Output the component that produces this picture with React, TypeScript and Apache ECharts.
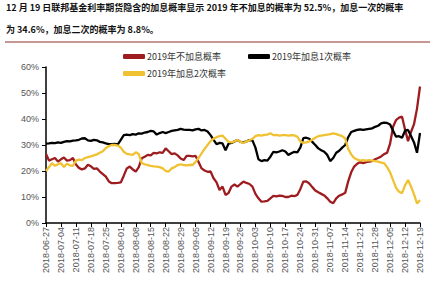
import React, { useEffect, useRef } from "react";
import * as echarts from "echarts";

const titleLine1 = "12 月 19 日联邦基金利率期货隐含的加息概率显示 2019 年不加息的概率为 52.5%，加息一次的概率";
const titleLine2 = "为 34.6%，加息二次的概率为 8.8%。";

const seriesNames = ["2019年不加息概率", "2019年加息1次概率", "2019年加息2次概率"];

const startDate = "2018-06-27";
const businessDayCount = 126;

const noHikeProb = [
  26.5, 24.0, 24.5, 25.0, 23.6, 24.5, 25.2, 24.0, 24.2, 25.0,
  22.5, 21.2, 20.6, 21.0, 22.4, 21.8, 20.8, 21.0, 19.8, 18.8,
  17.8, 16.0, 15.3, 15.3, 15.4, 15.6, 18.2, 21.0, 21.7, 20.6,
  19.8, 21.5, 24.9, 25.5, 26.2, 26.0, 27.0, 26.8, 27.2, 27.0,
  28.7, 27.6, 26.5, 26.8, 26.0, 24.8, 24.2, 25.8, 25.8, 25.6,
  25.8, 23.5, 21.0, 20.2, 19.7, 19.8, 17.2, 15.6, 12.7, 14.0,
  10.8, 11.5, 14.0, 14.8, 14.0, 15.0, 15.9, 15.4, 15.0, 14.0,
  11.2, 9.5, 8.2, 8.3, 8.5, 9.5, 10.4, 10.2, 10.5, 10.4,
  10.0, 10.0, 10.5, 10.3, 10.8, 13.0, 15.9, 16.0, 15.2, 13.8,
  12.5, 11.8, 11.2, 10.6, 9.5, 8.2, 7.6, 9.5, 10.5, 11.0,
  11.6, 16.0, 19.5, 21.7, 22.8, 23.5, 23.0, 23.4, 23.6, 23.8,
  24.5, 25.0, 25.6, 26.5, 27.0, 30.5, 37.0, 39.6, 40.5, 40.9,
  36.0, 31.5, 35.0, 38.0, 44.0, 52.5,
];

const oneHikeProb = [
  30.5, 30.6, 30.8, 30.7, 31.0, 30.8, 31.2, 31.5, 31.4, 31.7,
  31.8, 32.0, 32.5, 32.6, 31.8, 31.6, 32.0, 31.8, 31.2, 31.0,
  30.6, 30.3, 30.3, 30.4, 30.2, 32.0, 33.8, 34.0, 33.8, 34.2,
  34.0, 34.5, 34.4, 34.8, 35.0, 35.4, 35.2, 34.0, 34.6, 35.0,
  34.6, 35.0, 35.4, 35.6, 35.8, 36.2, 35.9, 35.8, 35.8, 35.6,
  36.0, 36.2, 35.6, 35.8, 35.2, 33.8, 32.0, 30.3, 30.8, 30.6,
  28.0, 30.5, 30.8, 31.4, 31.9, 31.2, 31.0, 31.4, 31.9, 31.8,
  29.0, 24.5, 23.8, 24.2, 24.0, 25.5, 27.4, 27.2, 27.5, 28.0,
  27.5, 26.2, 26.8, 27.4, 27.2, 29.0, 32.6, 32.8, 32.4, 31.2,
  30.0, 28.7, 28.0, 27.4, 26.2, 23.8, 25.0, 27.0, 27.8, 29.0,
  30.0, 33.0, 35.0, 35.4, 35.8, 36.0, 35.8, 36.0, 36.2, 36.4,
  37.0, 37.4, 38.3, 38.6, 38.5, 37.9, 35.5, 33.2, 33.4, 32.8,
  35.5, 35.8, 33.5, 31.0, 27.0, 34.6,
];

const twoHikeProb = [
  20.0, 21.5, 23.0, 22.0, 22.6, 23.0, 21.5, 22.8, 22.2, 22.0,
  24.0, 24.4, 24.2, 25.0, 25.3, 25.6, 26.0, 26.4, 27.0, 27.6,
  28.8, 29.6, 30.0, 30.0, 29.8, 29.0, 27.4, 26.6, 26.4, 26.2,
  27.2, 26.5, 23.0, 22.6, 22.3, 22.0, 21.8, 21.7, 21.5, 21.0,
  20.0, 19.8, 21.0, 21.5, 22.3, 22.6, 22.3, 22.2, 22.4, 22.3,
  23.5, 25.0, 26.8, 28.5, 30.0, 31.5, 32.4, 33.0, 33.4, 33.6,
  32.4, 31.2, 31.0, 31.4, 31.9, 31.2, 30.8, 31.4, 31.8, 32.4,
  33.4, 33.8, 33.6, 33.9, 34.0, 34.5, 33.8, 33.9, 33.6, 33.8,
  33.8, 33.6, 33.8, 33.7, 33.2, 31.4, 30.8, 31.0, 31.4, 32.0,
  32.8, 33.4, 33.6, 33.8, 34.0, 34.2, 34.5, 34.2, 33.8, 33.4,
  32.5, 28.5, 26.4, 25.0, 24.4, 24.0, 24.2, 24.0, 24.2, 24.0,
  23.8, 23.6, 23.2, 23.0, 21.5, 19.5, 16.5, 13.5, 12.0, 11.5,
  14.5, 16.5, 14.0, 11.0, 7.5, 8.8,
];

const seriesColors = ["#9E1C1F", "#000000", "#F0C232"];

function buildCategories(): string[] {
  const out: string[] = [];
  const d = new Date(startDate + "T00:00:00Z");
  while (out.length < businessDayCount) {
    const wd = d.getUTCDay();
    if (wd !== 0 && wd !== 6) {
      out.push(d.toISOString().slice(0, 10));
    }
    d.setUTCDate(d.getUTCDate() + 1);
  }
  return out;
}

export default function App() {
  const ref = useRef<HTMLDivElement>(null);
  useEffect(() => {
    if (!ref.current) return;
    const chart = echarts.init(ref.current, null, { renderer: "svg" });
    const categories = buildCategories();
    const values = [noHikeProb, oneHikeProb, twoHikeProb];
    chart.setOption({
      animation: false,
      backgroundColor: "#ffffff",
      graphic: [
        {
          type: "text",
          left: 6,
          top: 3,
          style: {
            text: titleLine1,
            fontSize: 9,
            fontWeight: "bold",
            fontFamily: "Noto Sans CJK SC",
            fill: "#111",
          },
        },
        {
          type: "text",
          left: 6,
          top: 25,
          style: {
            text: titleLine2,
            fontSize: 9,
            fontWeight: "bold",
            fontFamily: "Noto Sans CJK SC",
            fill: "#111",
          },
        },
        {
          type: "line",
          shape: { x1: 5, y1: 42, x2: 430, y2: 42 },
          style: { stroke: "#8A2E2A", lineWidth: 1.2 },
        },
      ],
      legend: [
        {
          data: [seriesNames[0], seriesNames[1]],
          left: 118,
          top: 47,
          itemWidth: 22,
          itemHeight: 5,
          itemGap: 27,
          icon: "roundRect",
          textStyle: { fontSize: 9, color: "#333", fontFamily: "Noto Sans CJK SC", padding: [0, 0, 0, -3] },
        },
        {
          data: [seriesNames[2]],
          left: 118,
          top: 64,
          itemWidth: 22,
          itemHeight: 5,
          icon: "roundRect",
          textStyle: { fontSize: 9, color: "#333", fontFamily: "Noto Sans CJK SC", padding: [0, 0, 0, -3] },
        },
      ],
      grid: { left: 46, right: 15, top: 67, bottom: 60, containLabel: false },
      xAxis: {
        type: "category",
        data: categories,
        boundaryGap: false,
        axisLine: { lineStyle: { color: "#000", width: 1.5 } },
        axisTick: { show: true, interval: 4, length: 4, lineStyle: { color: "#000" } },
        axisLabel: {
          interval: 4,
          rotate: 90,
          fontSize: 9,
          color: "#555",
          fontFamily: "Liberation Sans",
          margin: 4,
        },
        splitLine: { show: false },
      },
      yAxis: {
        type: "value",
        min: 0,
        max: 60,
        interval: 10,
        axisLine: { show: true, lineStyle: { color: "#000", width: 1.5 } },
        axisTick: { show: true, length: 4, lineStyle: { color: "#000" } },
        axisLabel: {
          formatter: "{value}%",
          fontSize: 9,
          color: "#555",
          fontFamily: "Liberation Sans",
          margin: 7,
        },
        splitLine: { show: false },
      },
      series: seriesNames.map((name, i) => ({
        name,
        type: "line",
        data: values[i],
        showSymbol: false,
        symbol: "none",
        lineStyle: { width: 2.3, color: seriesColors[i] },
        itemStyle: { color: seriesColors[i] },
      })),
    });
    return () => chart.dispose();
  }, []);
  return (
    <div
      ref={ref}
      style={{ position: "fixed", left: 0, top: 0, width: 435, height: 283 }}
    />
  );
}
